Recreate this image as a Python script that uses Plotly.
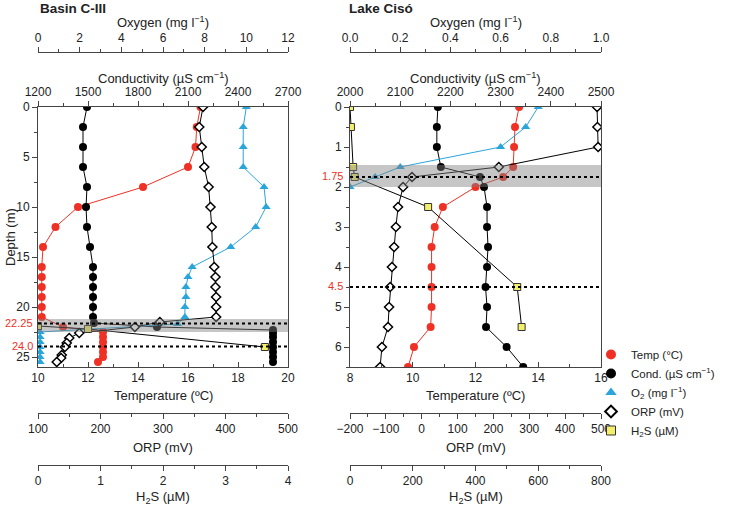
import plotly.graph_objects as go

W, H = 729, 508

# ---------------- Basin C-III data ----------------
b_temp_depth = [0, 2, 4, 6, 8, 10, 12, 14, 16, 17, 18, 19, 20, 21, 22, 22.5, 23, 23.5, 24, 24.5, 25, 25.5]
b_temp = [16.5, 16.35, 16.3, 16.0, 14.2, 11.6, 10.7, 10.2, 10.15, 10.15, 10.15, 10.15, 10.15, 10.15, 11.0, 12.6, 12.6, 12.6, 12.6, 12.6, 12.6, 12.4]

b_cond_depth = [0, 2, 4, 6, 8, 10, 12, 14, 16, 17, 18, 19, 20, 21, 21.6, 22.0, 22.3, 22.6, 23, 23.5, 24, 24.5, 25, 25.5]
b_cond = [1494, 1470, 1470, 1470, 1494, 1488, 1494, 1512, 1530, 1530, 1530, 1530, 1530, 1530, 1536, 1914, 2610, 2610, 2610, 2610, 2610, 2610, 2610, 2610]

b_o2_depth = [0, 2, 4, 6, 8, 10, 12, 14, 16, 17, 18, 19, 20, 21, 21.7, 22.5, 23, 23.5, 24, 24.5, 25, 25.5]
b_o2 = [10.0, 9.85, 9.85, 9.85, 10.85, 10.95, 10.45, 9.25, 7.4, 7.2, 7.1, 7.1, 7.05, 7.05, 6.7, 0.1, 0.1, 0.1, 0.1, 0.1, 0.1, 0.1]

b_orp_depth = [0, 2, 4, 6, 8, 10, 12, 14, 16, 17, 18, 19, 20, 21, 21.5, 22.0, 22.6, 23.1, 23.6, 24, 24.8, 25.1, 25.5]
b_orp = [364, 358, 362, 366, 373, 376, 378, 379, 382, 384, 384, 385, 385, 385, 295, 255, 166, 150, 146, 143, 138, 137, 130]

b_h2s_depth = [21.9, 22.2, 24.0]
b_h2s = [0.0, 0.8, 3.63]

# ---------------- Lake Cisó data ----------------
c_depth = [0, 0.5, 1, 1.5, 1.75, 2, 2.5, 3, 3.5, 4, 4.5, 5, 5.5, 6, 6.5]
c_temp = [13.39, 13.26, 13.23, 13.2, 12.88, 12.0, 10.96, 10.7, 10.6, 10.6, 10.6, 10.6, 10.57, 10.04, 9.85]
c_cond = [2175, 2173, 2173, 2181, 2259, 2267, 2273, 2273, 2275, 2273, 2270, 2273, 2271, 2312, 2345]
c_orp = [489, 490, 492, 215, -27, -52, -66, -72, -77, -83, -88, -91, -94, -111, -116]

c_o2_depth = [0, 0.5, 1, 1.5, 1.75, 2]
c_o2 = [0.75, 0.70, 0.60, 0.20, 0.10, 0.0]

c_h2s_depth = [0, 0.5, 1.5, 1.75, 2.5, 4.5, 5.5]
c_h2s = [0, 3, 10, 15, 249, 533, 547]

# ---------------- styling ----------------
RED = "#ee3124"
BLUE = "#2aa5dc"
YEL = "#f4ef6a"
AX = "#444444"
FONT = "Liberation Sans, Arial, sans-serif"

def py(p):
    return 1 - p / H

def px(p):
    return p / W

dom_y = [py(367), py(107)]
dom_b = [px(38), px(288)]
dom_c = [px(350), px(601)]

fig = go.Figure()

def series(x, y, xa, ya, kind):
    if kind == "temp":
        m = dict(symbol="circle", size=8, color=RED)
        lc = RED
    elif kind == "cond":
        m = dict(symbol="circle", size=8, color="black")
        lc = "black"
    elif kind == "o2":
        m = dict(symbol="triangle-up", size=8, color=BLUE)
        lc = BLUE
    elif kind == "orp":
        m = dict(symbol="diamond", size=7, color="white", line=dict(color="black", width=1.5))
        lc = "black"
    else:
        m = dict(symbol="square", size=7, color=YEL, line=dict(color="#333", width=1))
        lc = "black"
    fig.add_trace(go.Scatter(x=x, y=y, xaxis=xa, yaxis=ya, mode="lines+markers",
                             marker=m, line=dict(color=lc, width=1), showlegend=False,
                             hoverinfo="skip"))

# Basin C-III
series(b_orp, b_orp_depth, "x4", "y", "orp")
series(b_o2, b_o2_depth, "x3", "y", "o2")
series(b_temp, b_temp_depth, "x", "y", "temp")
series(b_cond, b_cond_depth, "x2", "y", "cond")
series(b_h2s, b_h2s_depth, "x5", "y", "h2s")
# Lake Cisó
series(c_orp, c_depth, "x9", "y2", "orp")
series(c_o2, c_o2_depth, "x8", "y2", "o2")
series(c_temp, c_depth, "x6", "y2", "temp")
series(c_cond, c_depth, "x7", "y2", "cond")
series(c_h2s, c_h2s_depth, "x10", "y2", "h2s")

# legend entries (markers only)
leg = [("Temp (°C)", dict(symbol="circle", size=10, color=RED)),
       ("Cond. (µS cm<sup>−1</sup>)", dict(symbol="circle", size=10, color="black")),
       ("O<sub>2</sub> (mg l<sup>−1</sup>)", dict(symbol="triangle-up", size=10, color=BLUE)),
       ("ORP (mV)", dict(symbol="diamond", size=9, color="white", line=dict(color="black", width=2))),
       ("H<sub>2</sub>S (µM)", dict(symbol="square", size=9, color=YEL, line=dict(color="#333", width=1)))]
for name, m in leg:
    fig.add_trace(go.Scatter(x=[None], y=[None], mode="markers", marker=m, name=name,
                             xaxis="x", yaxis="y", showlegend=True))

def xax(domain, rng, dtick, mdtick, side, anchor, position=None, overlaying=None,
        ticks="outside", tick0=None):
    d = dict(domain=domain, range=rng, dtick=dtick, side=side, anchor=anchor,
             automargin=False,
             showline=True, linecolor=AX, linewidth=1, ticks=ticks, ticklen=5,
             tickcolor=AX, showgrid=False, zeroline=False,
             tickfont=dict(size=12, color="#222", family=FONT),
             minor=dict(dtick=mdtick, ticks=ticks, ticklen=3, tickcolor=AX, showgrid=False))
    if tick0 is not None:
        d["tick0"] = tick0
    if position is not None:
        d["position"] = position
    if overlaying is not None:
        d["overlaying"] = overlaying
    return d

yO2 = py(52)
yORP = py(413)
yH2S = py(465)

layout_axes = dict(
    xaxis=xax(dom_b, [10, 20], 2, 1, "bottom", "y", ticks="inside"),
    xaxis2=xax(dom_b, [1200, 2700], 300, 150, "top", "y", overlaying="x"),
    xaxis3=xax(dom_b, [0, 12], 2, 1, "top", "free", position=yO2, overlaying="x"),
    xaxis4=xax(dom_b, [100, 500], 100, 50, "bottom", "free", position=yORP, overlaying="x"),
    xaxis5=xax(dom_b, [0, 4], 1, 0.5, "bottom", "free", position=yH2S, overlaying="x"),
    xaxis6=xax(dom_c, [8, 16], 2, 1, "bottom", "y2", ticks="inside"),
    xaxis7=xax(dom_c, [2000, 2500], 100, 50, "top", "y2", overlaying="x6"),
    xaxis8=xax(dom_c, [0, 1.0], 0.2, 0.1, "top", "free", position=yO2, overlaying="x6"),
    xaxis9=xax(dom_c, [-200, 500], 100, 50, "bottom", "free", position=yORP, overlaying="x6", tick0=0),
    xaxis10=xax(dom_c, [0, 800], 200, 100, "bottom", "free", position=yH2S, overlaying="x6"),
)
layout_axes["xaxis8"]["tickformat"] = ".1f"

def yax(rng, mdtick, anchor, domain, tickvals, ticktext):
    return dict(domain=domain, range=rng, anchor=anchor, showline=True, automargin=False,
                linecolor=AX, linewidth=1, mirror=True, ticks="outside", ticklen=5,
                tickcolor=AX, showgrid=False, zeroline=False,
                tickmode="array", tickvals=tickvals, ticktext=ticktext,
                tickfont=dict(size=12, color="#222", family=FONT),
                minor=dict(dtick=mdtick, tick0=0, ticks="outside", ticklen=3, tickcolor=AX))

layout_axes["yaxis"] = yax([26, 0], 2.5, "x", dom_y,
                          [0, 5, 10, 15, 20, 25], ["0", "5", "10", "15", "20", "25"])
layout_axes["yaxis2"] = yax([6.5, 0], 0.5, "x6", dom_y,
                           [0, 1, 2, 3, 4, 5, 6], ["0", "1", "2", "3", "4", "5", "6"])

fig.update_layout(
    width=W, height=H, margin=dict(l=0, r=0, t=0, b=0, autoexpand=False),
    paper_bgcolor="white", plot_bgcolor="white",
    font=dict(family=FONT, size=12, color="#222"),
    legend=dict(x=px(591), y=py(340), xanchor="left", yanchor="top",
                font=dict(size=11.5, family=FONT, color="#222"),
                bgcolor="rgba(0,0,0,0)", itemwidth=30, tracegroupgap=0),
    **layout_axes,
)

# shaded transition zones and dotted reference lines
shapes = [
    dict(type="rect", xref="x domain", yref="y", x0=0, x1=1, y0=21.2, y1=22.5,
         fillcolor="#808080", opacity=0.45, line=dict(width=0), layer="above"),
    dict(type="rect", xref="x6 domain", yref="y2", x0=0, x1=1, y0=1.45, y1=2.0,
         fillcolor="#808080", opacity=0.45, line=dict(width=0), layer="above"),
    dict(type="line", xref="x domain", yref="y", x0=0, x1=1, y0=21.65, y1=21.65,
         line=dict(color="black", width=2, dash="dot"), layer="above"),
    dict(type="line", xref="x domain", yref="y", x0=0, x1=1, y0=23.95, y1=23.95,
         line=dict(color="black", width=2, dash="dot"), layer="above"),
    dict(type="line", xref="x6 domain", yref="y2", x0=0, x1=1, y0=1.75, y1=1.75,
         line=dict(color="black", width=2, dash="dot"), layer="above"),
    dict(type="line", xref="x6 domain", yref="y2", x0=0, x1=1, y0=4.5, y1=4.5,
         line=dict(color="black", width=2, dash="dot"), layer="above"),
]
fig.update_layout(shapes=shapes)

def ann(text, x, y, size=13, color="#222", xanchor="center", bold=False, angle=0):
    if bold:
        text = "<b>" + text + "</b>"
    fig.add_annotation(text=text, x=px(x), y=py(y), xref="paper", yref="paper",
                       xanchor=xanchor, yanchor="middle", showarrow=False, textangle=angle,
                       font=dict(size=size, color=color, family=FONT))

ann("Basin C-III", 38, 9, size=13.5, xanchor="left", bold=True)
ann("Lake Cisó", 347, 9, size=13.5, xanchor="left", bold=True)
for cx in (163, 475.5):
    ann("Oxygen (mg l<sup>−1</sup>)", cx, 22)
    ann("Conductivity (µS cm<sup>−1</sup>)", cx, 78)
    ann("Temperature (ºC)", cx, 395)
    ann("ORP (mV)", cx, 447)
    ann("H<sub>2</sub>S (µM)", cx, 497)
ann("Depth (m)", 10, 237, angle=-90)

ann("22.25", 35, 323, size=11, color=RED, xanchor="right")
ann("24.0", 35, 346, size=11, color=RED, xanchor="right")
ann("1.75", 345, 176, size=11, color=RED, xanchor="right")
ann("4.5", 345, 286, size=11, color=RED, xanchor="right")

# remove the default 8px page margin so the figure fills the browser window exactly
fig.write_html("out.html", config={"displayModeBar": False},
               post_script="document.body.style.margin='0';")
